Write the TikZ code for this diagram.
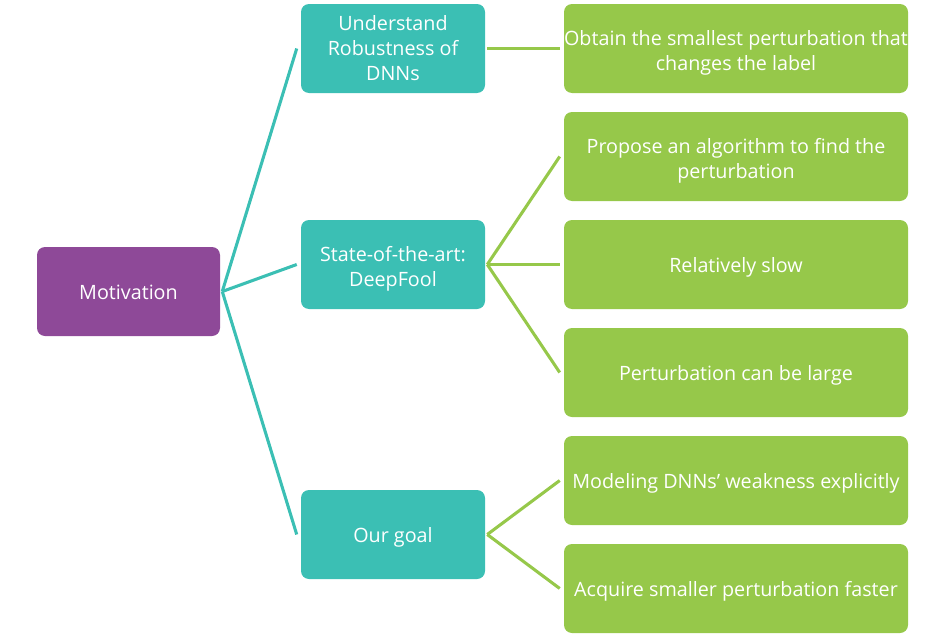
\documentclass[tikz,border=0pt]{standalone}
\usepackage{fontspec}
\setmainfont{Open Sans}
\definecolor{cpurple}{RGB}{142,73,152}
\definecolor{cteal}{RGB}{59,191,180}
\definecolor{cgreen}{RGB}{150,200,74}
\begin{document}
\begin{tikzpicture}[x=0.75pt,y=-0.75pt,
  box/.style={rounded corners=6pt, inner sep=0pt, text=white, align=center,
    font=\fontsize{14.8}{18.75}\selectfont, minimum height=66.75pt},
  oneline/.style={text height=12.2pt, text depth=0pt},
  twoline/.style={text height=36.5pt},
  rootbox/.style={box, fill=cpurple, minimum width=137.25pt},
  midbox/.style={box, fill=cteal, minimum width=138pt},
  leafbox/.style={box, fill=cgreen, minimum width=258pt},
  tline/.style={draw=cteal, line width=2.3pt},
  gline/.style={draw=cgreen, line width=2.3pt}]
\useasboundingbox (0,0) rectangle (947,639);
\node[rootbox, oneline] (mot) at (128.5,291.5) {Motivation};
\node[midbox] (u) at (393,48.5) {Understand\\Robustness of\\DNNs};
\node[midbox, twoline] (s) at (393,264.5) {State-of-the-art:\\DeepFool};
\node[midbox, oneline] (g) at (393,534.5) {Our goal};
\node[leafbox, twoline] (g1) at (736,48.5) {Obtain the smallest perturbation that\\changes the label};
\node[leafbox, twoline] (g2) at (736,156.5) {Propose an algorithm to find the\\perturbation};
\node[leafbox, oneline] (g3) at (736,264.5) {Relatively slow};
\node[leafbox, oneline] (g4) at (736,372.5) {Perturbation can be large};
\node[leafbox, oneline] (g5) at (736,480.5) {Modeling DNNs’ weakness explicitly};
\node[leafbox, oneline] (g6) at (736,588.5) {Acquire smaller perturbation faster};
\coordinate (mr) at ([xshift=1.5pt]mot.east);
\draw[tline] (mr) -- ([xshift=-3pt]u.west);
\draw[tline] (mr) -- ([xshift=-3pt]s.west);
\draw[tline] (mr) -- ([xshift=-3pt]g.west);
\draw[gline] ([xshift=1.5pt]u.east) -- ([xshift=-3pt]g1.west);
\coordinate (sr) at ([xshift=1.5pt]s.east);
\draw[gline] (sr) -- ([xshift=-3pt]g2.west);
\draw[gline] (sr) -- ([xshift=-3pt]g3.west);
\draw[gline] (sr) -- ([xshift=-3pt]g4.west);
\coordinate (gr) at ([xshift=1.5pt]g.east);
\draw[gline] (gr) -- ([xshift=-3pt]g5.west);
\draw[gline] (gr) -- ([xshift=-3pt]g6.west);
\end{tikzpicture}
\end{document}
